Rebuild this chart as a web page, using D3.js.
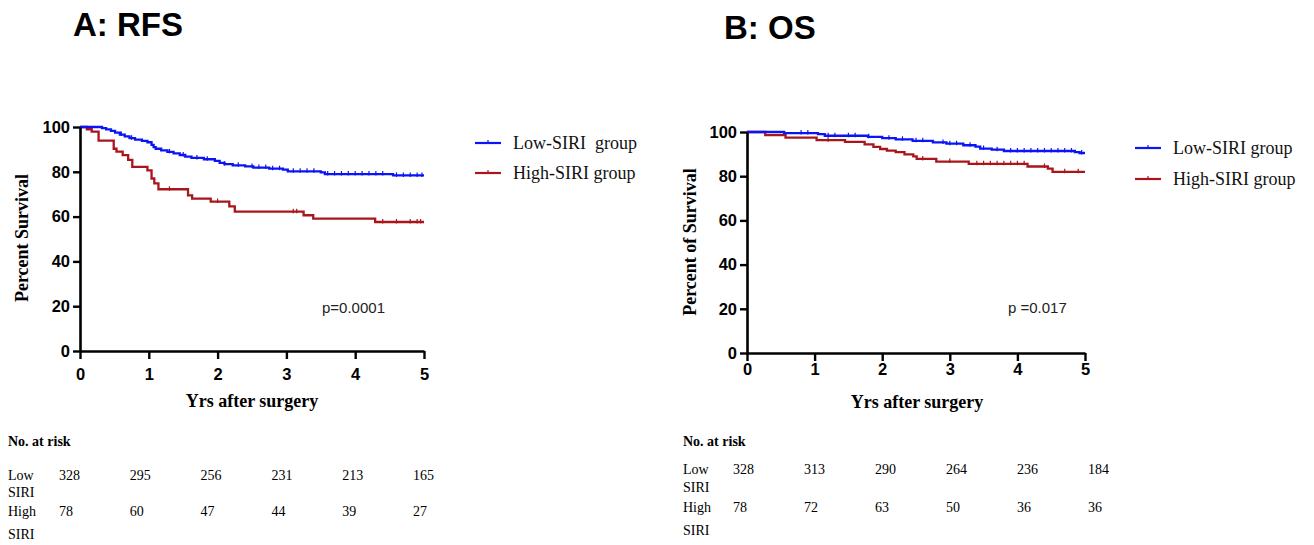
<!DOCTYPE html>
<html>
<head>
<meta charset="utf-8">
<script src="https://cdn.jsdelivr.net/npm/d3@7"></script>
<style>
  html, body { margin: 0; padding: 0; background: #fff; }
  svg { display: block; }
  text { white-space: pre; }
</style>
</head>
<body>
<svg id="chart" width="1314" height="545"></svg>
<script>
// ---------------- DATA ----------------
const xTicks = [0, 1, 2, 3, 4, 5];
const yTicks = [0, 20, 40, 60, 80, 100];
const groups = ["Low-SIRI  group", "High-SIRI group"];
const groupsB = ["Low-SIRI group", "High-SIRI group"];

// RFS step points [years, percent]
const rfsLow = [[0,100],[0.32,99.5],[0.38,98.9],[0.45,98.3],[0.51,97.5],[0.58,96.6],[0.65,95.8],[0.72,95.0],[0.80,94.4],[0.90,93.8],[0.98,93.2],[1.04,92.0],[1.07,91.0],[1.10,90.3],[1.18,89.6],[1.27,88.9],[1.36,88.2],[1.45,87.5],[1.53,86.8],[1.62,86.2],[1.80,85.6],[1.96,84.9],[2.03,84.0],[2.10,83.4],[2.22,82.9],[2.40,82.4],[2.52,81.9],[2.75,81.4],[2.95,81.0],[3.02,80.2],[3.50,79.7],[3.56,79.0],[4.55,78.4],[5,78.4]];
const rfsHigh = [[0,100],[0.10,99.0],[0.17,97.9],[0.27,93.9],[0.49,90.3],[0.53,89.0],[0.62,87.4],[0.70,85.3],[0.76,82.2],[0.98,80.6],[1.04,77.0],[1.08,74.8],[1.14,72.2],[1.57,69.5],[1.63,68.0],[1.90,66.7],[2.17,64.6],[2.25,62.2],[3.25,60.6],[3.39,59.1],[4.29,57.6],[5,57.6]];
const rfsLowCens = [0.6,0.75,1.3,1.5,1.7,1.85,2.1,2.3,2.5,2.6,2.7,2.8,2.9,3.1,3.2,3.3,3.4,3.6,3.7,3.8,3.9,4.0,4.1,4.2,4.3,4.4,4.6,4.7,4.8,4.9,4.97];
const rfsHighCens = [1.3,2.0,3.1,3.15,4.4,4.6,4.8,4.9,4.95];

// OS step points [years, percent]
const osLow = [[0,100],[0.55,99.5],[1.05,99.0],[1.15,98.3],[1.79,97.8],[2.0,97.2],[2.2,96.7],[2.45,96.0],[2.75,95.3],[2.95,94.7],[3.2,94.0],[3.38,93.4],[3.45,92.5],[3.62,92.0],[3.8,91.4],[4.85,90.9],[4.92,90.5],[5,90.5]];
const osHigh = [[0,100],[0.27,98.6],[0.57,97.5],[1.03,96.3],[1.45,95.5],[1.74,94.4],[1.87,93.3],[1.97,92.3],[2.07,91.6],[2.2,90.9],[2.33,89.9],[2.46,89.0],[2.51,87.8],[2.8,86.6],[3.28,85.6],[4.15,84.4],[4.45,83.4],[4.52,82.0],[5,82.0]];
const osLowCens = [0.8,0.9,1.2,1.3,1.5,1.6,1.8,2.1,2.3,2.5,2.6,2.9,3.0,3.1,3.3,3.5,3.7,3.9,4.0,4.1,4.2,4.3,4.4,4.5,4.6,4.7,4.8,4.95];
const osHighCens = [1.2,2.6,3.0,3.4,3.5,3.6,3.7,3.8,3.9,4.0,4.1,4.4,4.7,4.9];

// Numbers at risk
const rfsRiskLow = [328, 295, 256, 231, 213, 165];
const rfsRiskHigh = [78, 60, 47, 44, 39, 27];
const osRiskLow = [328, 313, 290, 264, 236, 184];
const osRiskHigh = [78, 72, 63, 50, 36, 36];

// ---------------- DRAWING ----------------
const BLUE = "#0a14f5";
const RED = "#a8161b";
const SANS = "'Liberation Sans', Arial, sans-serif";
const SERIF = "'Liberation Serif', 'Times New Roman', serif";
const svg = d3.select("#chart");

function survAt(pts, t) {
  let v = pts[0][1];
  for (const p of pts) { if (p[0] <= t) v = p[1]; else break; }
  return v;
}

function panel(cfg) {
  const x = d3.scaleLinear().domain([0, 5]).range(cfg.xr);
  const y = d3.scaleLinear().domain([0, 100]).range(cfg.yr);
  const g = svg.append("g");

  // title
  g.append("text").attr("x", cfg.title[0]).attr("y", cfg.title[1])
    .attr("font-family", SANS).attr("font-weight", "bold").attr("font-size", 33)
    .text(cfg.title[2]);

  // curves
  const line = d3.line().x(d => x(d[0])).y(d => y(d[1])).curve(d3.curveStepAfter);
  const series = [
    { pts: cfg.low, cens: cfg.lowCens, color: BLUE },
    { pts: cfg.high, cens: cfg.highCens, color: RED }
  ];
  [series[1], series[0]].forEach(s => {
    g.append("path").datum(s.pts).attr("d", line)
      .attr("fill", "none").attr("stroke", s.color).attr("stroke-width", 2.3);
    g.selectAll(null).data(s.cens).enter().append("line")
      .attr("x1", d => x(d)).attr("x2", d => x(d))
      .attr("y1", d => y(survAt(s.pts, d)) - 3).attr("y2", d => y(survAt(s.pts, d)) + 1.5)
      .attr("stroke", s.color).attr("stroke-width", 1.2);
  });

  // axes
  const yAxis = d3.axisLeft(y).tickValues(yTicks).tickFormat(d3.format("d"))
    .tickSize(7).tickPadding(3).tickSizeOuter(0);
  const xAxis = d3.axisBottom(x).tickValues(xTicks).tickFormat(d3.format("d"))
    .tickSize(8).tickPadding(cfg.xPad).tickSizeOuter(0);
  const ya = g.append("g").attr("transform", `translate(${cfg.xr[0]},0)`).call(yAxis);
  const xa = g.append("g").attr("transform", `translate(0,${cfg.yr[0]})`).call(xAxis);
  [ya, xa].forEach(a => {
    a.select(".domain").attr("stroke", "#000").attr("stroke-width", 2.6);
    a.selectAll(".tick line").attr("stroke", "#000").attr("stroke-width", 2.4);
    a.selectAll(".tick text").attr("font-family", SANS).attr("font-weight", "bold")
      .attr("font-size", 16.5).attr("fill", "#000");
  });

  // axis labels
  g.append("text").attr("transform", `translate(${cfg.yl[0]},${cfg.yl[1]}) rotate(-90)`)
    .attr("text-anchor", "middle").attr("font-family", SERIF).attr("font-weight", "bold")
    .attr("font-size", 18).text(cfg.yl[2]);
  g.append("text").attr("x", cfg.xl[0]).attr("y", cfg.xl[1])
    .attr("text-anchor", "middle").attr("font-family", SERIF).attr("font-weight", "bold")
    .attr("font-size", 18).text("Yrs after surgery");

  // p value
  g.append("text").attr("x", cfg.p[0]).attr("y", cfg.p[1])
    .attr("font-family", SANS).attr("font-size", 15).attr("fill", "#222").text(cfg.p[2]);

  // legend
  const lg = cfg.legend;
  [BLUE, RED].forEach((c, i) => {
    const ly = lg.ys[i];
    g.append("line").attr("x1", lg.x).attr("x2", lg.x + 26).attr("y1", ly).attr("y2", ly)
      .attr("stroke", c).attr("stroke-width", 2.2);
    g.append("line").attr("x1", lg.x + 13).attr("x2", lg.x + 13).attr("y1", ly - 3).attr("y2", ly + 1)
      .attr("stroke", c).attr("stroke-width", 1.2);
    g.append("text").attr("x", lg.x + 38).attr("y", ly + lg.dy)
      .attr("xml:space", "preserve")
      .attr("font-family", SERIF).attr("font-size", 18).attr("fill", "#111")
      .text(lg.labels[i]);
  });

  // risk table
  const rt = cfg.risk;
  const rx = d3.scaleLinear().domain([0, 5]).range(rt.cols);
  g.append("text").attr("x", rt.x).attr("y", rt.head)
    .attr("font-family", SERIF).attr("font-weight", "bold").attr("font-size", 14).text("No. at risk");
  const rows = [
    { a: "Low", b: "SIRI", vals: cfg.riskLow, y: rt.rows[0], y2: rt.rows[1] },
    { a: "High", b: "SIRI", vals: cfg.riskHigh, y: rt.rows[2], y2: rt.rows[3] }
  ];
  rows.forEach(r => {
    g.append("text").attr("x", rt.x).attr("y", r.y).attr("font-family", SERIF).attr("font-size", 14).text(r.a);
    g.append("text").attr("x", rt.x).attr("y", r.y2).attr("font-family", SERIF).attr("font-size", 14).text(r.b);
    g.selectAll(null).data(r.vals).enter().append("text")
      .attr("x", (d, i) => rx(i)).attr("y", r.y)
      .attr("font-family", SERIF).attr("font-size", 14).text(d => d);
  });
}

panel({
  xr: [80, 424], yr: [351, 127], xPad: 9,
  title: [73, 36, "A: RFS"],
  low: rfsLow, high: rfsHigh, lowCens: rfsLowCens, highCens: rfsHighCens,
  yl: [28, 238, "Percent Survival"], xl: [252, 407],
  p: [322, 313, "p=0.0001"],
  legend: { x: 475, ys: [143, 173], dy: 6, labels: groups },
  risk: { x: 8, head: 446, rows: [480, 497, 516, 539], cols: [59, 413] },
  riskLow: rfsRiskLow, riskHigh: rfsRiskHigh
});

panel({
  xr: [747, 1085], yr: [353, 132], xPad: 2,
  title: [724, 39, "B: OS"],
  low: osLow, high: osHigh, lowCens: osLowCens, highCens: osHighCens,
  yl: [696, 242, "Percent of Survival"], xl: [917, 408],
  p: [1008, 313, "p =0.017"],
  legend: { x: 1135, ys: [148, 179], dy: 6, labels: groupsB },
  risk: { x: 683, head: 446, rows: [474, 492, 512, 535], cols: [733, 1088] },
  riskLow: osRiskLow, riskHigh: osRiskHigh
});
</script>
</body>
</html>
